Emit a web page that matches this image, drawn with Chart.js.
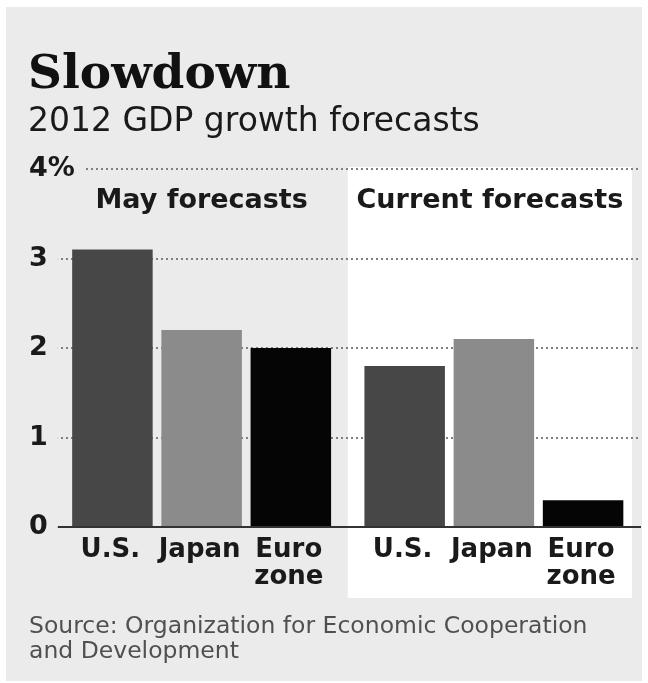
<!DOCTYPE html>
<html><head><meta charset="utf-8">
<script src="https://cdn.jsdelivr.net/npm/chart.js@4.4.0/dist/chart.umd.min.js"></script>
<style>html,body{margin:0;padding:0;background:#fff;} canvas{display:block;}</style>
</head><body>
<canvas id="c" width="648" height="683"></canvas>
<script>
const groups = ["May forecasts", "Current forecasts"];
const countries = [["U.S."], ["Japan"], ["Euro", "zone"]];
const usValues = [3.1, 1.8];
const japanValues = [2.2, 2.1];
const euroValues = [2.0, 0.3];
const yTicks = [0, 1, 2, 3, 4];
const yTickLabels = ["0", "1", "2", "3", "4%"];
const sourceLines = ["Source: Organization for Economic Cooperation", "and Development"];

const SANS = '"DejaVu Sans", sans-serif';
const PAD_LEFT = 28;
const Y_WIDTH = 27.5;

const decor = {
  id: 'decor',
  beforeDraw(chart) {
    const {ctx, chartArea: a, scales: {x}} = chart;
    ctx.save();
    ctx.fillStyle = '#ebebeb';
    ctx.fillRect(6, 7, 636, 674);
    ctx.fillStyle = '#ffffff';
    const left = x.getPixelForValue(0.5);
    ctx.fillRect(left, a.top - 2, a.right - 8 - left, a.bottom + 71 - (a.top - 2));
    ctx.restore();
  },
  afterDatasetsDraw(chart) {
    const {ctx, chartArea: a, scales: {x}} = chart;
    ctx.save();
    ctx.fillStyle = '#1a1a1a';
    ctx.textAlign = 'center';
    ctx.textBaseline = 'alphabetic';
    ctx.font = 'bold 27px ' + SANS;
    groups.forEach((g, i) => ctx.fillText(g, x.getPixelForValue(i) - (i ? 4 : 0), a.top + 39));
    ctx.font = 'bold 26px ' + SANS;
    chart.data.datasets.forEach((ds, di) => {
      const meta = chart.getDatasetMeta(di);
      meta.data.forEach(bar => {
        countries[di].forEach((line, li) => ctx.fillText(line, bar.x - 2, a.bottom + 30 + li * 27));
      });
    });
    ctx.restore();
  },
  afterDraw(chart) {
    const {ctx} = chart;
    ctx.save();
    ctx.fillStyle = '#505050';
    ctx.textAlign = 'left';
    ctx.textBaseline = 'alphabetic';
    ctx.font = '23.5px ' + SANS;
    sourceLines.forEach((l, i) => ctx.fillText(l, PAD_LEFT + 1, 633 + i * 25));
    ctx.restore();
  }
};

new Chart(document.getElementById('c'), {
  type: 'bar',
  data: {
    labels: groups,
    datasets: [
      { label: countries[0].join(' '), data: usValues, backgroundColor: '#474747' },
      { label: countries[1].join(' '), data: japanValues, backgroundColor: '#8b8b8b' },
      { label: countries[2].join(' '), data: euroValues, backgroundColor: '#050505' }
    ]
  },
  options: {
    responsive: false,
    devicePixelRatio: 1,
    animation: false,
    categoryPercentage: 0.9157,
    barPercentage: 0.9025,
    layout: { padding: { left: PAD_LEFT, right: 8, top: 0, bottom: 156 } },
    plugins: {
      legend: { display: false },
      tooltip: { enabled: false },
      title: {
        display: true, text: 'Slowdown', align: 'start', color: '#111111',
        font: { family: '"DejaVu Serif", serif', size: 47, weight: 'bold', lineHeight: 1 },
        padding: { top: 52, bottom: 0 }
      },
      subtitle: {
        display: true, text: '2012 GDP growth forecasts', align: 'start', color: '#1a1a1a',
        font: { family: SANS, size: 33, weight: 'normal', lineHeight: 1 },
        padding: { top: 7, bottom: 30 }
      }
    },
    scales: {
      x: {
        grid: { display: false, drawTicks: false },
        ticks: { display: false },
        border: { display: true, color: '#333333', width: 2 }
      },
      y: {
        min: 0, max: 4,
        afterBuildTicks: s => { s.ticks = yTicks.map(v => ({ value: v })); },
        afterFit: s => { s.width = Y_WIDTH; },
        grid: { color: '#7f7f7f', lineWidth: 2, drawTicks: false },
        border: { display: false, dash: [2, 3] },
        ticks: {
          z: 1,
          mirror: true,
          crossAlign: 'near',
          padding: -Y_WIDTH + 1,
          color: '#1a1a1a',
          font: { family: SANS, size: 27, weight: 'bold' },
          callback: (v) => yTickLabels[yTicks.indexOf(v)],
          showLabelBackdrop: true,
          backdropColor: '#ebebeb',
          backdropPadding: { left: 0, right: 10, top: 0, bottom: 0 }
        }
      }
    }
  },
  plugins: [decor]
});
</script>
</body></html>
